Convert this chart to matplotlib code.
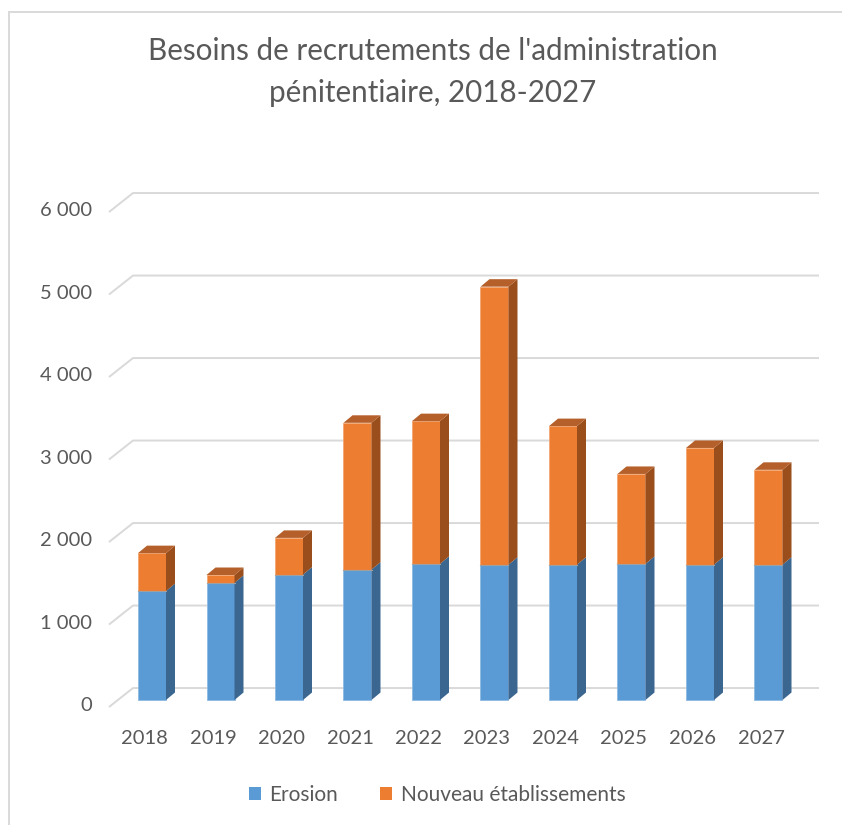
import matplotlib
matplotlib.use("Agg")
import matplotlib.pyplot as plt
from matplotlib.patches import Polygon, Patch, Rectangle

plt.rcParams['font.family'] = ['Lato', 'DejaVu Sans']

years = ['2018', '2019', '2020', '2021', '2022', '2023', '2024', '2025', '2026', '2027']
erosion = [1320, 1420, 1520, 1580, 1650, 1640, 1640, 1650, 1640, 1640]
nouveaux = [460, 95, 445, 1780, 1730, 3370, 1680, 1090, 1415, 1150]
y_ticks = [0, 1000, 2000, 3000, 4000, 5000, 6000]
y_labels = ['0', '1 000', '2 000', '3 000', '4 000', '5 000', '6 000']

blue, blue_side = '#5B9BD5', '#3B6690'
orange, orange_side, orange_top = '#ED7D31', '#9A4E1C', '#B5602A'
txt = '#595959'
grid_c = '#D9D9D9'

W, H = 842, 825
fig = plt.figure(figsize=(W / 100, H / 100), dpi=100)

# axes box in pixels, bar front plane: x = 152 + 68.5*i, y = 700 - 0.0825*v
left_px, right_px, top_px, bot_px = 100, 830, 150, 720
ax = fig.add_axes([left_px / W, 1 - bot_px / H, (right_px - left_px) / W, (bot_px - top_px) / H])
ax.set_xlim((left_px - 152) / 68.5, (right_px - 152) / 68.5)
ax.set_ylim((700 - bot_px) / 0.0825, (700 - top_px) / 0.0825)
ax.axis('off')

# 3d offsets (data units)
ddx, ddy = 9 / 68.5, 7.5 / 0.0825
back_dy, front_dy = 145, -85
x_back, x_front, x_end = (133 - 152) / 68.5, (109 - 152) / 68.5, (819 - 152) / 68.5

# back wall gridlines with the floor diagonal
for v, lab in zip(y_ticks, y_labels):
    ax.plot([x_front, x_back, x_end], [v + front_dy, v + back_dy, v + back_dy],
            color=grid_c, lw=1.4, zorder=1, solid_capstyle='butt')
    ax.text((92 - 152) / 68.5, v + front_dy + 15, lab, ha='right', va='center',
            fontsize=14.5, color=txt)

xs = list(range(len(years)))
w = 28 / 68.5
b1 = ax.bar(xs, erosion, width=w, color=blue, zorder=3, edgecolor='#8FB9E3', linewidth=0.6)
b2 = ax.bar(xs, nouveaux, bottom=erosion, width=w, color=orange, zorder=3,
            edgecolor='#F2A772', linewidth=0.6)

for i in xs:
    xr = i + w / 2
    xl = i - w / 2
    e = erosion[i]
    t = erosion[i] + nouveaux[i]
    ax.add_patch(Polygon([(xr, 0), (xr, e), (xr + ddx, e + ddy), (xr + ddx, ddy)],
                         closed=True, facecolor=blue_side, edgecolor='none', zorder=3))
    ax.add_patch(Polygon([(xr, e), (xr, t), (xr + ddx, t + ddy), (xr + ddx, e + ddy)],
                         closed=True, facecolor=orange_side, edgecolor='none', zorder=3))
    ax.add_patch(Polygon([(xl, t), (xr, t), (xr + ddx, t + ddy), (xl + ddx, t + ddy)],
                         closed=True, facecolor=orange_top, edgecolor='none', zorder=3))
    ax.plot([xl, xr], [e, e], color='#A0A0A0', lw=0.8, zorder=4)
    ax.text(i - 0.11, (700 - 738) / 0.0825, years[i], ha='center', va='center',
            fontsize=14.5, color=txt)

fig.text(433 / W, 1 - 51 / H, "Besoins de recrutements de l'administration",
         ha='center', va='center', fontsize=21.3, color=txt)
fig.text(433 / W, 1 - 93 / H, "pénitentiaire, 2018-2027",
         ha='center', va='center', fontsize=21.3, color=txt)

handles = [Patch(facecolor=blue, label='Erosion'),
           Patch(facecolor=orange, label='Nouveau établissements')]
fig.legend(handles=handles, loc='center', bbox_to_anchor=(437 / W, 1 - 795 / H), ncol=2,
           frameon=False, fontsize=15, labelcolor=txt, handlelength=0.6,
           handleheight=0.6, handletextpad=0.4, columnspacing=2.0)

fig.add_artist(Rectangle((9 / W, -0.1), 1.2, 1 - 12 / H + 0.1, transform=fig.transFigure,
                         fill=False, edgecolor=grid_c, lw=1.4))

fig.savefig('out.png', dpi=100)
